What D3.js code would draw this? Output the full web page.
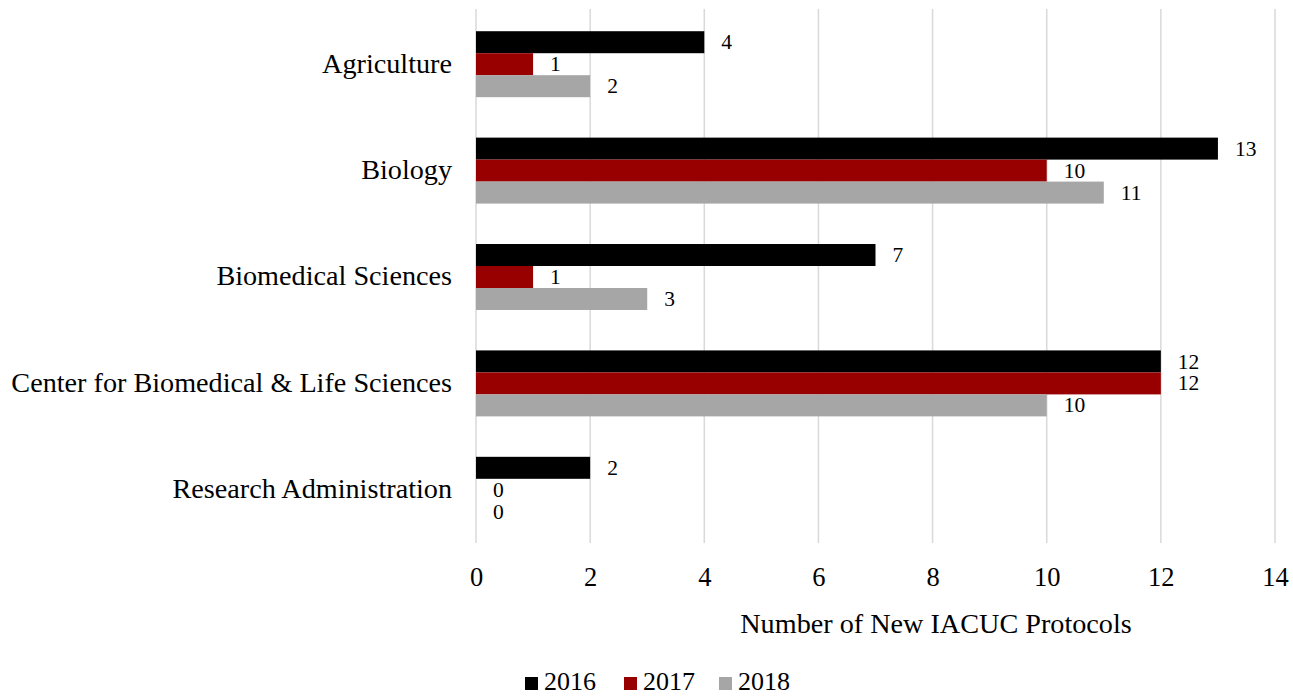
<!DOCTYPE html>
<html>
<head>
<meta charset="utf-8">
<script src="https://cdn.jsdelivr.net/npm/d3@7"></script>
<style>
  html, body { margin: 0; padding: 0; background: #fff; }
  svg { display: block; }
</style>
</head>
<body>
<svg id="chart" width="1293" height="696"></svg>
<script>
// New IACUC protocols by unit and year
const categories = ["Agriculture", "Biology", "Biomedical Sciences", "Center for Biomedical & Life Sciences", "Research Administration"];
const years = ["2016", "2017", "2018"];
const values2016 = [4, 13, 7, 12, 2];
const values2017 = [1, 10, 1, 12, 0];
const values2018 = [2, 11, 3, 10, 0];
const xTicks = [0, 2, 4, 6, 8, 10, 12, 14];
const colors = ["#000000", "#980000", "#a6a6a6"];

const seriesValues = [values2016, values2017, values2018];

const svg = d3.select("#chart");
const plotLeft = 476, plotRight = 1275, plotTop = 11, plotBottom = 543;

const x = d3.scaleLinear().domain([0, 14]).range([plotLeft, plotRight]);
const y = d3.scaleBand().domain(categories).range([plotTop, plotBottom]).paddingInner(0.38).paddingOuter(0.19);
const ySub = d3.scaleBand().domain(years).range([0, y.bandwidth()]);

const serif = "'Liberation Serif', 'Times New Roman', serif";

// vertical gridlines
svg.append("g")
  .selectAll("line")
  .data(xTicks)
  .join("line")
  .attr("x1", d => x(d)).attr("x2", d => x(d))
  .attr("y1", plotTop - 2).attr("y2", plotBottom)
  .attr("stroke", "#d9d9d9").attr("stroke-width", 1.5);

// x axis labels
const xAxis = d3.axisBottom(x).tickValues(xTicks).tickSize(0).tickPadding(0);
const gx = svg.append("g").attr("transform", `translate(0,${plotBottom + 25})`).call(xAxis);
gx.select(".domain").remove();
gx.selectAll("text")
  .attr("font-family", serif)
  .attr("font-size", 26.5)
  .attr("fill", "#000")
  .attr("dy", "0.68em");

// category labels
const gy = svg.append("g").attr("transform", `translate(${plotLeft - 24},0)`)
  .call(d3.axisLeft(y).tickSize(0).tickPadding(0));
gy.select(".domain").remove();
gy.selectAll("text")
  .attr("font-family", serif)
  .attr("font-size", 28.2)
  .attr("dy", "0.3em")
  .attr("fill", "#000");

// bars with value labels
const groups = svg.append("g")
  .selectAll("g")
  .data(years)
  .join("g")
  .attr("fill", (d, i) => colors[i]);

groups.each(function (yr, si) {
  const g = d3.select(this);
  const rows = categories.map((c, ci) => ({ c, v: seriesValues[si][ci] }));
  g.selectAll("rect")
    .data(rows)
    .join("rect")
    .attr("x", x(0))
    .attr("y", d => y(d.c) + ySub(yr))
    .attr("width", d => x(d.v) - x(0))
    .attr("height", ySub.bandwidth());
  g.selectAll("text")
    .data(rows)
    .join("text")
    .attr("x", d => x(d.v) + 17)
    .attr("y", d => y(d.c) + ySub(yr) + ySub.bandwidth() / 2)
    .attr("dy", "0.33em")
    .attr("font-family", serif)
    .attr("font-size", 21.5)
    .attr("fill", "#000")
    .text(d => d.v);
});

// x axis title
svg.append("text")
  .attr("x", 936).attr("y", 633)
  .attr("text-anchor", "middle")
  .attr("font-family", serif)
  .attr("font-size", 28.2)
  .attr("fill", "#000")
  .text("Number of New IACUC Protocols");

// legend
const legendX = [525, 624, 719];
const legend = svg.append("g");
years.forEach((yr, i) => {
  legend.append("rect")
    .attr("x", legendX[i]).attr("y", 677)
    .attr("width", 13).attr("height", 13)
    .attr("fill", colors[i]);
  legend.append("text")
    .attr("x", legendX[i] + 19).attr("y", 690)
    .attr("font-family", serif)
    .attr("font-size", 26)
    .attr("fill", "#000")
    .text(yr);
});
</script>
</body>
</html>
